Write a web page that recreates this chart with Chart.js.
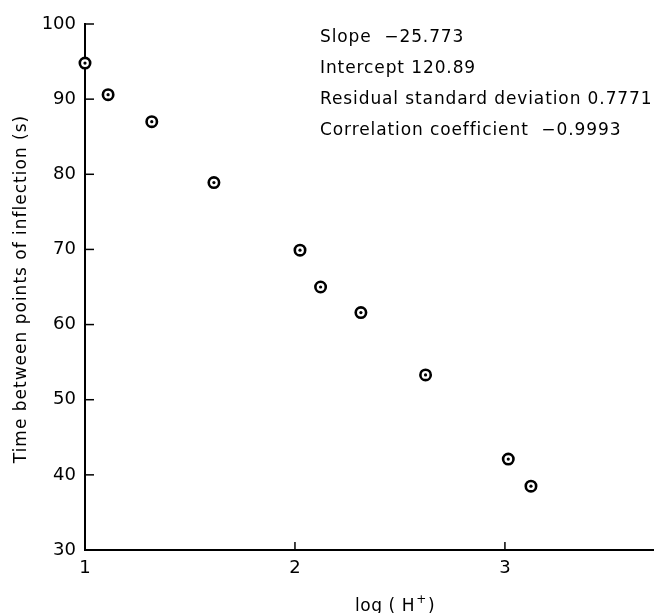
<!DOCTYPE html>
<html>
<head>
<meta charset="utf-8">
<script src="https://cdn.jsdelivr.net/npm/chart.js@4.4.0/dist/chart.umd.min.js"></script>
<style>
  html, body { margin: 0; padding: 0; background: #fff; }
  #wrap { width: 654px; height: 613px; position: relative; }
</style>
</head>
<body>
<div id="wrap"><canvas id="c" width="654" height="613"></canvas></div>
<script>
// ---- data ----
const logH = [1.00, 1.11, 1.318, 1.614, 2.024, 2.122, 2.314, 2.622, 3.016, 3.124];
const timeS = [94.8, 90.6, 87.0, 78.9, 69.9, 65.0, 61.6, 53.3, 42.1, 38.5];
const xTicks = [1, 2, 3];
const yTicks = [30, 40, 50, 60, 70, 80, 90, 100];
const statLines = [
  'Slope  \u221225.773',
  'Intercept 120.89',
  'Residual standard deviation 0.7771',
  'Correlation coefficient  \u22120.9993'
];
const xTitleMain = 'log ( H';
const xTitleSup = '+';
const xTitleEnd = ')';
const yTitle = 'Time between points of inflection (s)';

const FONT = '"DejaVu Sans", sans-serif';
const pts = logH.map((x, i) => ({ x: x, y: timeS[i] }));

const decorations = {
  id: 'decorations',
  afterDraw(chart) {
    const ctx = chart.ctx, xs = chart.scales.x, ys = chart.scales.y;
    const a = chart.chartArea;
    ctx.save();
    ctx.strokeStyle = '#000';
    ctx.lineWidth = 1.5;
    ys.ticks.forEach(t => {
      if (t.value === ys.min) return;
      const p = ys.getPixelForValue(t.value);
      ctx.beginPath(); ctx.moveTo(a.left, p); ctx.lineTo(a.left + 9, p); ctx.stroke();
    });
    xs.ticks.forEach(t => {
      if (t.value === xs.min) return;
      const p = xs.getPixelForValue(t.value);
      ctx.beginPath(); ctx.moveTo(p, a.bottom); ctx.lineTo(p, a.bottom - 8); ctx.stroke();
    });
    ctx.fillStyle = '#000';
    // statistics text block
    ctx.letterSpacing = '0.9px';
    ctx.font = '17px ' + FONT;
    ctx.textBaseline = 'middle';
    ctx.textAlign = 'left';
    const tx = a.left + 235;
    statLines.forEach((s, i) => ctx.fillText(s, tx, a.top + 14 + i * 31));
    // y axis title
    ctx.save();
    ctx.letterSpacing = '1px';
    ctx.font = '17px ' + FONT;
    ctx.translate(22, (a.top + a.bottom) / 2 + 2);
    ctx.rotate(-Math.PI / 2);
    ctx.textAlign = 'center';
    ctx.textBaseline = 'middle';
    ctx.fillText(yTitle, 0, 0);
    ctx.restore();
    // x axis title with superscript
    ctx.letterSpacing = '0.6px';
    ctx.textAlign = 'left';
    ctx.textBaseline = 'alphabetic';
    ctx.font = '17px ' + FONT;
    const w1 = ctx.measureText(xTitleMain).width;
    ctx.font = '12px ' + FONT;
    const w2 = ctx.measureText(xTitleSup).width;
    ctx.font = '17px ' + FONT;
    const w3 = ctx.measureText(xTitleEnd).width;
    const total = w1 + w2 + 2 + w3;
    const cx = a.left + 310;
    const x0 = cx - total / 2;
    const base = a.bottom + 61;
    ctx.fillText(xTitleMain, x0, base);
    ctx.font = '12px ' + FONT;
    ctx.fillText(xTitleSup, x0 + w1 + 1, base - 8);
    ctx.font = '17px ' + FONT;
    ctx.fillText(xTitleEnd, x0 + w1 + w2 + 2, base);
    ctx.restore();
  }
};

new Chart(document.getElementById('c'), {
  type: 'scatter',
  data: {
    datasets: [
      {
        data: pts,
        pointStyle: 'circle',
        pointRadius: 1.6,
        pointHoverRadius: 1.6,
        borderColor: '#000',
        backgroundColor: '#000',
        borderWidth: 0,
        clip: false
      },
      {
        data: pts,
        pointStyle: 'circle',
        pointRadius: 5.2,
        pointHoverRadius: 5.2,
        borderColor: '#000',
        backgroundColor: '#fff',
        borderWidth: 2.6,
        clip: false
      }
    ]
  },
  options: {
    responsive: false,
    animation: false,
    events: [],
    layout: { autoPadding: false, padding: { top: 24, right: 0, left: 0, bottom: 0 } },
    plugins: { legend: { display: false }, tooltip: { enabled: false } },
    scales: {
      x: {
        type: 'linear',
        min: 1,
        max: 3.71,
        afterBuildTicks: s => { s.ticks = xTicks.map(v => ({ value: v })); },
        afterFit: s => { s.height = 63; s.paddingRight = 0; s.paddingLeft = 0; },
        grid: { display: false, drawTicks: false },
        border: { display: true, color: '#000', width: 2 },
        ticks: { color: '#000', padding: 8, font: { family: FONT, size: 18 } },
        title: { display: false }
      },
      y: {
        type: 'linear',
        min: 30,
        max: 100,
        afterBuildTicks: s => { s.ticks = yTicks.map(v => ({ value: v })); },
        afterFit: s => { s.width = 85; },
        grid: { display: false, drawTicks: false },
        border: { display: true, color: '#000', width: 2 },
        ticks: { color: '#000', padding: 9, font: { family: FONT, size: 18 } },
        title: { display: false }
      }
    }
  },
  plugins: [decorations]
});
</script>
</body>
</html>
